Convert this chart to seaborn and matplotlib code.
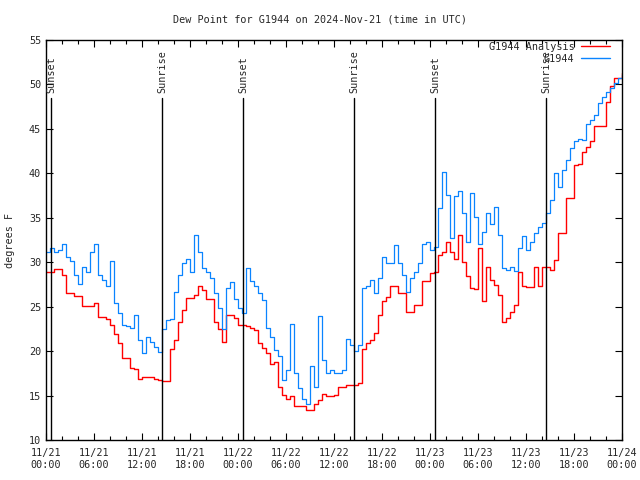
import numpy as np
import pandas as pd
import matplotlib
matplotlib.use("Agg")
import matplotlib.pyplot as plt
import matplotlib.dates as mdates
from matplotlib.lines import Line2D
import seaborn as sns

# ---- data (half-hourly) ----
times = pd.date_range("2024-11-21 00:00", "2024-11-24 00:00", freq="30min")

analysis = [
    28.9, 28.9, 29.2, 29.2, 28.6, 26.5, 26.5, 26.2, 26.2, 25.1, 25.1, 25.1,
    25.4, 23.8, 23.8, 23.6, 22.9, 21.9, 20.9, 19.2, 19.2, 18.1, 18.0, 16.9,
    17.1, 17.1, 17.1, 16.9, 16.8, 16.6, 16.6, 20.2, 21.3, 23.3, 24.6, 26.0,
    26.0, 26.3, 27.3, 26.9, 25.9, 25.9, 23.3, 22.5, 21.0, 24.1, 24.1, 23.7,
    22.9, 22.9, 22.8, 22.6, 22.4, 20.9, 20.3, 19.8, 18.5, 18.8, 16.0, 15.1,
    14.6, 14.9, 13.8, 13.8, 13.8, 13.4, 13.4, 14.1, 14.5, 15.2, 14.9, 15.0,
    15.1, 16.0, 16.0, 16.2, 16.2, 16.2, 16.4, 20.2, 20.9, 21.3, 22.0, 24.1,
    25.6, 26.1, 27.3, 27.3, 26.5, 26.5, 24.4, 24.4, 25.2, 25.2, 27.9, 27.9,
    28.8, 28.9, 30.8, 31.2, 32.3, 31.2, 30.4, 33.1, 30.0, 28.5, 27.1, 27.0,
    31.6, 25.6, 29.5, 28.0, 27.4, 26.3, 23.3, 23.7, 24.4, 25.2, 28.9, 27.3,
    27.2, 27.2, 29.5, 27.3, 29.5, 29.5, 29.1, 30.3, 33.3, 33.3, 37.2, 37.2,
    40.9, 41.1, 42.4, 43.0, 43.6, 45.3, 45.3, 45.3, 48.0, 49.8, 50.7, 50.7,
    51.3,
]

observed = [
    31.2, 31.6, 31.2, 31.4, 32.1, 30.6, 30.1, 28.6, 27.6, 29.5, 28.9, 31.2,
    32.1, 28.6, 28.0, 27.3, 30.1, 25.4, 24.3, 22.9, 22.8, 22.6, 24.1, 21.3,
    19.8, 21.6, 21.0, 20.5, 19.9, 22.5, 23.5, 23.6, 26.7, 28.6, 29.9, 30.4,
    28.9, 33.1, 31.2, 29.3, 28.9, 28.2, 26.5, 24.8, 22.5, 27.1, 27.8, 25.9,
    24.9, 24.3, 29.4, 27.9, 27.3, 26.5, 25.7, 22.6, 21.6, 20.1, 19.4, 16.8,
    17.9, 23.0, 17.5, 15.8, 14.6, 14.1, 18.3, 16.0, 24.0, 19.0, 17.5, 17.9,
    17.5, 17.5, 17.9, 21.4, 20.7, 20.0, 20.7, 27.1, 27.3, 28.0, 26.5, 28.2,
    30.6, 29.9, 29.9, 31.9, 29.9, 28.6, 26.7, 28.2, 28.9, 29.9, 32.0, 32.3,
    31.4, 31.7, 36.1, 40.2, 37.6, 32.7, 37.5, 38.0, 35.5, 32.3, 37.8, 35.1,
    32.1, 33.4, 35.5, 34.3, 36.2, 33.1, 29.3, 29.1, 29.5, 29.0, 31.6, 32.9,
    31.4, 32.3, 33.3, 34.0, 34.4, 35.5, 37.0, 40.0, 38.5, 40.4, 41.5, 42.8,
    43.6, 43.9, 43.8, 45.6, 46.0, 46.6, 47.9, 48.6, 49.2, 49.6, 50.2, 50.7,
    51.1,
]

sun_times = pd.to_datetime([
    "2024-11-21 00:40", "2024-11-21 14:30", "2024-11-22 00:40",
    "2024-11-22 14:30", "2024-11-23 00:40", "2024-11-23 14:30",
])
sun_labels = ["Sunset", "Sunrise", "Sunset", "Sunrise", "Sunset", "Sunrise"]

series_names = ["G1944 Analysis", "G1944"]
series_colors = ["#ff0000", "#0a84ff"]
title = "Dew Point for G1944 on 2024-Nov-21 (time in UTC)"
ylabel = "degrees F"

df = pd.DataFrame({"time": times, "analysis": analysis, "observed": observed})

# ---- styling ----
sns.set_style("ticks")
plt.rcParams["font.family"] = ["DejaVu Sans Mono"]
FS = 7.3

fig = plt.figure(figsize=(6.4, 4.8), dpi=100)
ax = fig.add_axes([46 / 640, 40 / 480, 576 / 640, 400 / 480])

sns.lineplot(data=df, x="time", y="analysis", ax=ax, color=series_colors[0],
             lw=1.0, drawstyle="steps-post", estimator=None)
sns.lineplot(data=df, x="time", y="observed", ax=ax, color=series_colors[1],
             lw=0.9, drawstyle="steps-post", estimator=None)

ax.set_xlim(pd.Timestamp("2024-11-21 00:00"), pd.Timestamp("2024-11-24 00:00"))
ax.set_ylim(10, 55)
ax.set_yticks(np.arange(10, 56, 5))
ax.xaxis.set_major_locator(mdates.HourLocator(byhour=[0, 6, 12, 18]))
ax.xaxis.set_minor_locator(mdates.HourLocator(byhour=range(0, 24, 2)))
ax.xaxis.set_major_formatter(mdates.DateFormatter("%m/%d\n%H:%M"))
ax.set_xlabel("")
ax.set_ylabel("")
ax.tick_params(which="both", direction="in", top=True, right=True,
               labelsize=FS, color="black")
ax.tick_params(which="major", length=5, width=0.8)
ax.tick_params(which="minor", length=3, width=0.8)
ax.tick_params(axis="x", pad=6)
for s in ax.spines.values():
    s.set_color("black")
    s.set_linewidth(1.0)

for t, lab in zip(sun_times, sun_labels):
    ax.axvline(t, ymin=0, ymax=(48.5 - 10) / 45, color="black", lw=1.0)
    ax.text(t, 49.0, lab, rotation=90, ha="center", va="bottom", fontsize=FS)

handles = [Line2D([], [], color=c, lw=1.0) for c in series_colors]
ax.legend(handles, series_names, loc="upper right", bbox_to_anchor=(0.979, 0.995),
          frameon=False, fontsize=FS, markerfirst=False, handlelength=2.9,
          handletextpad=0.6, labelspacing=0.15, borderpad=0, borderaxespad=0)

fig.text(0.5, 1 - 20 / 480, title, ha="center", va="center", fontsize=FS)
fig.text(10 / 640, 240 / 480, ylabel, rotation=90, ha="center", va="center", fontsize=FS)

fig.savefig("out.png", dpi=100)
